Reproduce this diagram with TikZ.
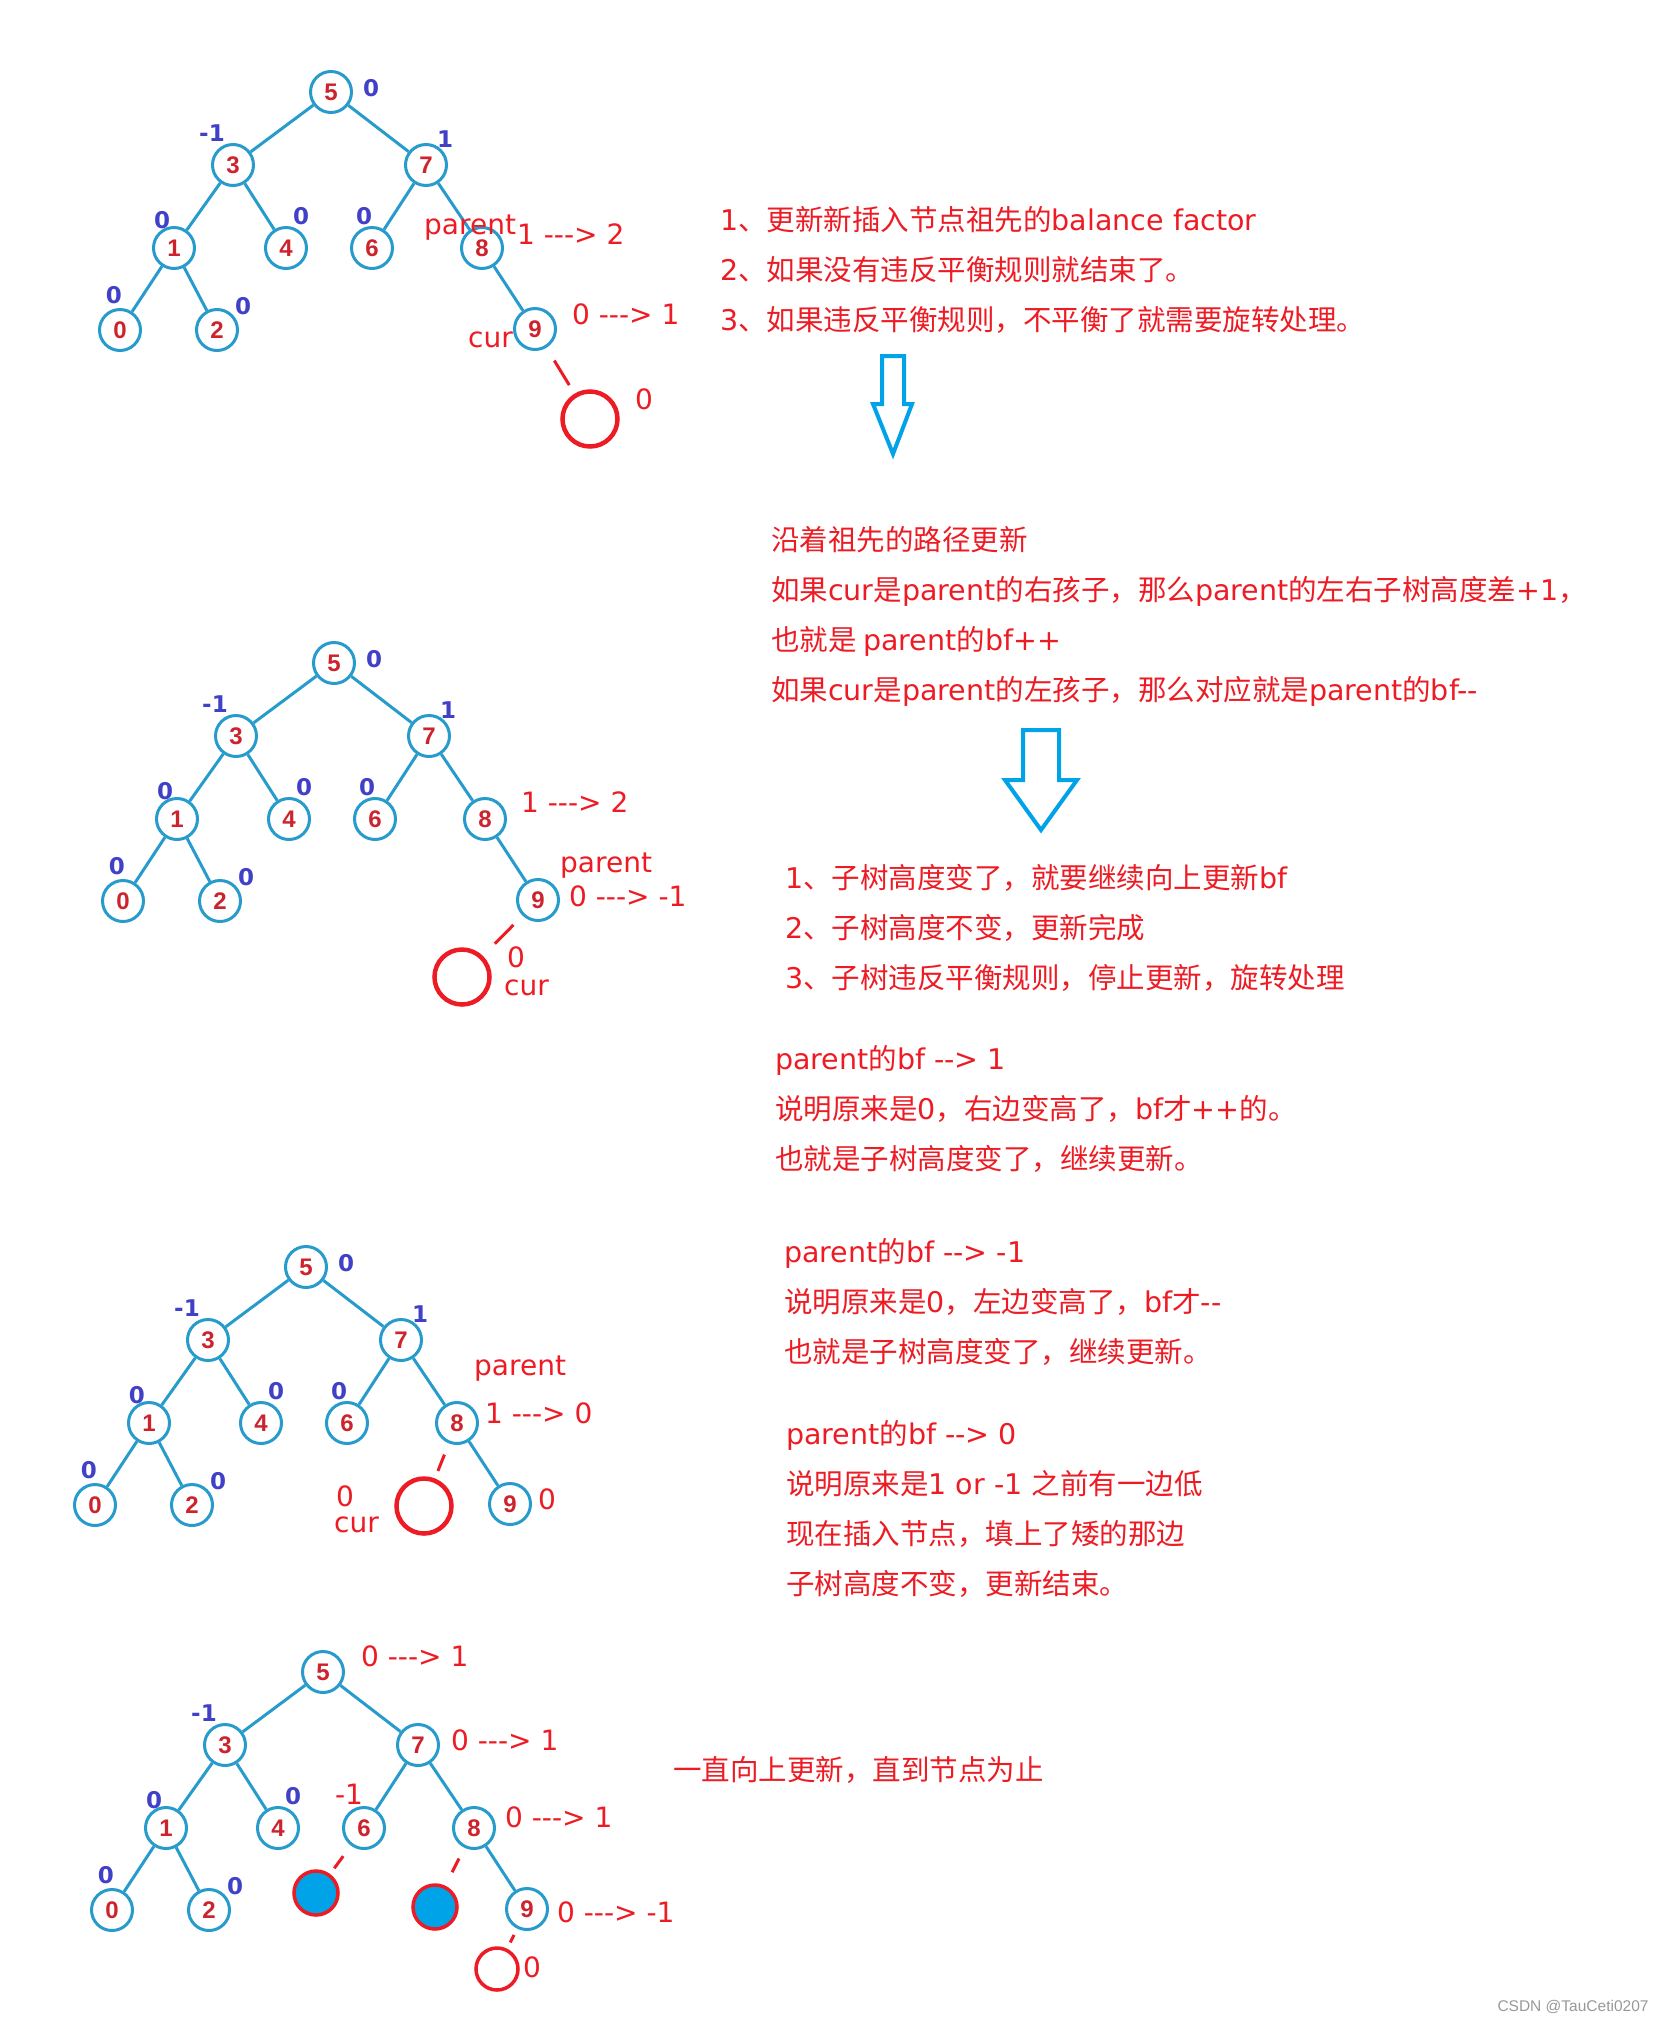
\documentclass[tikz,border=0pt]{standalone}
\usepackage{fontspec}
\newfontfamily\cjkfont{Noto Sans CJK SC}
\newfontfamily\latfont{DejaVu Sans}
\newfontfamily\numfont{Liberation Sans}
\newcommand{\ltn}[1]{{\latfont #1}}

\definecolor{treeblue}{RGB}{40,155,205}
\definecolor{keyred}{RGB}{205,35,45}
\definecolor{bfblue}{RGB}{65,65,200}
\definecolor{paintred}{RGB}{237,28,36}
\definecolor{paintblue}{RGB}{0,162,232}

% the keys 0..9, laid out round the root at (0,0)
\newcommand{\keytree}[1]{%
  \node[keynode] (#1-5) at (0,0) {5};
  \node[keynode] (#1-3) at (-98,73) {3};
  \node[keynode] (#1-7) at (95,73) {7};
  \node[keynode] (#1-1) at (-157,156) {1};
  \node[keynode] (#1-4) at (-45,156) {4};
  \node[keynode] (#1-6) at (41,156) {6};
  \node[keynode] (#1-8) at (151,156) {8};
  \node[keynode] (#1-0) at (-211,238) {0};
  \node[keynode] (#1-2) at (-114,238) {2};
  \node[keynode] (#1-9) at (204,237) {9};
  \draw[treeedge] (#1-5) -- (#1-3);
  \draw[treeedge] (#1-5) -- (#1-7);
  \draw[treeedge] (#1-3) -- (#1-1);
  \draw[treeedge] (#1-3) -- (#1-4);
  \draw[treeedge] (#1-7) -- (#1-6);
  \draw[treeedge] (#1-7) -- (#1-8);
  \draw[treeedge] (#1-1) -- (#1-0);
  \draw[treeedge] (#1-1) -- (#1-2);
  \draw[treeedge] (#1-8) -- (#1-9);
  \node[bflabel] (#1-b3) at (-119,41) {-1};
  \node[bflabel] (#1-b1) at (-169,128) {0};
  \node[bflabel] (#1-b4) at (-30,124) {0};
  \node[bflabel] (#1-b0) at (-217,203) {0};
  \node[bflabel] (#1-b2) at (-88,214) {0};
}

\begin{document}
\begin{tikzpicture}[
    x=1pt, y=-1pt,
    keynode/.style={
      circle,
      draw=treeblue,
      line width=3pt,
      fill=white,
      minimum size=41pt,
      inner sep=0pt,
      text=keyred,
      font=\numfont\bfseries\fontsize{24}{24}\selectfont,
    },
    treeedge/.style={draw=treeblue, line width=3pt},
    bflabel/.style={inner sep=0pt, text=bfblue,
      font=\latfont\bfseries\fontsize{23}{23}\selectfont},
    newkey/.style={circle, draw=paintred, line width=4.5pt,
      minimum size=55pt, inner sep=0pt},
    addedkey/.style={circle, draw=paintred, fill=paintblue,
      line width=3.5pt, minimum size=44pt, inner sep=0pt},
    stub/.style={draw=paintred, line width=3pt},
    change/.style={inner sep=0pt, text=paintred, text height=24pt,
      text depth=5pt, font=\latfont\fontsize{28}{34}\selectfont},
    note/.style={inner sep=0pt, text=paintred, align=left,
      anchor=north west, font=\cjkfont\fontsize{28.5}{50}\selectfont},
    hollow/.style={draw=paintblue, line width=4pt, line join=miter},
  ]
  \useasboundingbox (0,0) rectangle (1668,2022);
  \fill[white] (0,0) rectangle (1668,2022);

  % first tree: 9 gets a right child
  \begin{scope}[shift={(331,92)}]
    \keytree{a}
    \node[bflabel] (a-b5) at (40,-4) {0};
    \node[bflabel] (a-b7) at (114,47) {1};
    \node[bflabel] (a-b6) at (33,124) {0};
    \node[newkey] (a-new) at (259,327) {};
    \draw[stub, shorten <=15pt, shorten >=10pt] (a-9) -- (a-new);
    \node[change, anchor=west] (a-par) at (93,133) {parent};
    \node[change, anchor=west] (a-bf8) at (186,143) {1 ---> 2};
    \node[change, anchor=west] (a-bf9) at (241,223) {0 ---> 1};
    \node[change, anchor=east] (a-cur) at (182,246) {cur};
    \node[change] (a-bfnew) at (313,308) {0};
  \end{scope}

  % second tree: 9 gets a left child
  \begin{scope}[shift={(334,663)}]
    \keytree{b}
    \node[bflabel] (b-b5) at (40,-4) {0};
    \node[bflabel] (b-b7) at (114,47) {1};
    \node[bflabel] (b-b6) at (33,124) {0};
    \node[newkey] (b-new) at (128,314) {};
    \draw[stub, shorten <=13pt, shorten >=17pt] (b-9) -- (b-new);
    \node[change, anchor=west] (b-bf8) at (187,140) {1 ---> 2};
    \node[change, anchor=west] (b-par) at (226,200) {parent};
    \node[change, anchor=west] (b-bf9) at (235,234) {0 ---> -1};
    \node[change] (b-bfnew) at (182,295) {0};
    \node[change, anchor=west] (b-cur) at (170,323) {cur};
  \end{scope}

  % third tree: 8 gets a left child
  \begin{scope}[shift={(306,1267)}]
    \keytree{c}
    \node[bflabel] (c-b5) at (40,-4) {0};
    \node[bflabel] (c-b7) at (114,47) {1};
    \node[bflabel] (c-b6) at (33,124) {0};
    \node[newkey] (c-new) at (118,239) {};
    \draw[stub, shorten <=12pt, shorten >=8pt] (c-8) -- (c-new);
    \node[change, anchor=west] (c-par) at (168,99) {parent};
    \node[change, anchor=west] (c-bf8) at (179,147) {1 ---> 0};
    \node[change] (c-bfnew) at (39,230) {0};
    \node[change, anchor=west] (c-cur) at (28,256) {cur};
    \node[change] (c-bf9) at (241,233) {0};
  \end{scope}

  % fourth tree: update runs up to the root
  \begin{scope}[shift={(323,1672)}]
    \keytree{d}
    \node[addedkey] (d-l6) at (-7,221) {};
    \node[addedkey] (d-l8) at (112,235) {};
    \node[newkey, minimum size=42pt, line width=3.5pt] (d-new) at (174,297) {};
    \draw[stub, shorten <=13pt, shorten >=7pt] (d-6) -- (d-l6);
    \draw[stub, shorten <=12pt, shorten >=15pt] (d-8) -- (d-l8);
    \draw[stub, shorten <=7pt, shorten >=7pt] (d-9) -- (d-new);
    \node[change, anchor=west] (d-bf5) at (38,-15) {0 ---> 1};
    \node[change, anchor=west] (d-bf7) at (128,69) {0 ---> 1};
    \node[change] (d-bf6) at (26,123) {-1};
    \node[change, anchor=west] (d-bf8) at (182,146) {0 ---> 1};
    \node[change, anchor=west] (d-bf9) at (234,241) {0 ---> -1};
    \node[change] (d-bfnew) at (209,296) {0};
  \end{scope}

  % notes on the right
  \node[note] (intro) at (720,206) {%
    \ltn{1}、更新新插入节点祖先的\ltn{balance factor}\\
    \ltn{2}、如果没有违反平衡规则就结束了。\\
    \ltn{3}、如果违反平衡规则，不平衡了就需要旋转处理。};
  \node[note] (path) at (771,526) {%
    沿着祖先的路径更新\\
    如果\ltn{cur}是\ltn{parent}的右孩子，那么\ltn{parent}的左右子树高度差\ltn{+1}，\\
    也就是 \ltn{parent}的\ltn{bf++}\\
    如果\ltn{cur}是\ltn{parent}的左孩子，那么对应就是\ltn{parent}的\ltn{bf--}};
  \node[note] (rules) at (785,864) {%
    \ltn{1}、子树高度变了，就要继续向上更新\ltn{bf}\\
    \ltn{2}、子树高度不变，更新完成\\
    \ltn{3}、子树违反平衡规则，停止更新，旋转处理};
  \node[note] (inc) at (775,1045) {%
    \ltn{parent}的\ltn{bf --> 1}\\
    说明原来是\ltn{0}，右边变高了，\ltn{bf}才\ltn{++}的。\\
    也就是子树高度变了，继续更新。};
  \node[note] (dec) at (784,1238) {%
    \ltn{parent}的\ltn{bf --> -1}\\
    说明原来是\ltn{0}，左边变高了，\ltn{bf}才\ltn{--}\\
    也就是子树高度变了，继续更新。};
  \node[note] (zero) at (786,1420) {%
    \ltn{parent}的\ltn{bf --> 0}\\
    说明原来是\ltn{1 or -1 }之前有一边低\\
    现在插入节点，填上了矮的那边\\
    子树高度不变，更新结束。};
  \node[note] (upto) at (673,1756) {一直向上更新，直到节点为止};

  % hollow arrows between the notes
  \draw[hollow] (882,356) -- (904,356) -- (904,404) -- (912,404)
    -- (893,454) -- (873,404) -- (882,404) -- cycle;
  \draw[hollow] (1023,730) -- (1059,730) -- (1059,780) -- (1077,780)
    -- (1041,830) -- (1005,780) -- (1023,780) -- cycle;

  \node[text=black!40, inner sep=0pt, font=\numfont\fontsize{15.5}{16}\selectfont]
    (mark) at (1573,2007) {CSDN @TauCeti0207};
\end{tikzpicture}
\end{document}
